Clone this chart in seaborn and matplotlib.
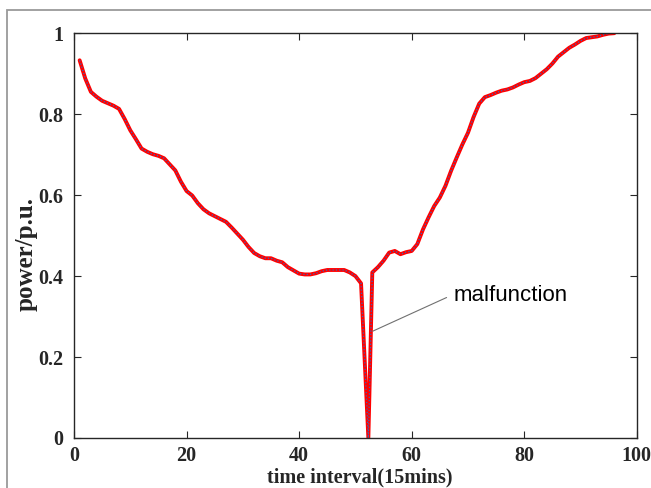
import numpy as np
import pandas as pd
import matplotlib
matplotlib.use("Agg")
import matplotlib.pyplot as plt
import matplotlib.patches as mpatches
import seaborn as sns

# ---- data ----
time_interval = list(range(1, 52)) + [52.3] + list(range(53, 97))
power = [
    0.933, 0.888, 0.855, 0.843, 0.833, 0.827, 0.821, 0.813, 0.788, 0.760,
    0.738, 0.715, 0.707, 0.701, 0.697, 0.691, 0.676, 0.661, 0.633, 0.610,
    0.599, 0.580, 0.565, 0.555, 0.548, 0.541, 0.534, 0.520, 0.505, 0.490,
    0.472, 0.457, 0.449, 0.444, 0.444, 0.438, 0.434, 0.422, 0.414, 0.406,
    0.404, 0.404, 0.407, 0.412, 0.415, 0.415, 0.415, 0.415, 0.409, 0.400,
    0.382, 0.000, 0.409, 0.422, 0.438, 0.458, 0.462, 0.454, 0.459, 0.462,
    0.479, 0.515, 0.545, 0.573, 0.594, 0.623, 0.660, 0.693, 0.725, 0.754,
    0.793, 0.826, 0.842, 0.847, 0.853, 0.858, 0.861, 0.866, 0.873, 0.879,
    0.882, 0.889, 0.900, 0.911, 0.925, 0.942, 0.953, 0.964, 0.972, 0.981,
    0.988, 0.990, 0.992, 0.996, 0.999, 1.000,
]
x_ticks = [0, 20, 40, 60, 80, 100]
y_ticks = [0, 0.2, 0.4, 0.6, 0.8, 1]
y_tick_labels = ["0", "0.2", "0.4", "0.6", "0.8", "1"]
annotation_text = "malfunction"
leader_x = [53.1, 66.2]
leader_y = [0.264, 0.347]
annotation_text_pos = (67.4, 0.352)

df = pd.DataFrame({"t": time_interval, "p": power})

sns.set_style("white")
plt.rcParams["font.family"] = ["Liberation Serif", "DejaVu Serif"]

fig = plt.figure(figsize=(6.51, 4.88), dpi=100)
ax = fig.add_axes([0.1137, 0.1025, 0.8645, 0.8295])

# outer grey frame
fig.patches.append(mpatches.Rectangle((7 / 651, -0.1), 1.2, (488 - 10) / 488 + 0.1,
                                      transform=fig.transFigure, fill=False,
                                      edgecolor="#9a9a9a", linewidth=1.3))

sns.lineplot(data=df, x="t", y="p", ax=ax, color="#ff0000", linewidth=2.8,
             sort=False, estimator=None)
sns.lineplot(data=df, x="t", y="p", ax=ax, color="#2b6cc4", linewidth=0.9,
             linestyle=":", sort=False, estimator=None)

ax.set_xlim(0, 100)
ax.set_ylim(0, 1)
ax.set_xticks(x_ticks)
ax.set_xticklabels([str(v) for v in x_ticks])
ax.set_yticks(y_ticks)
ax.set_yticklabels(y_tick_labels)

for s in ax.spines.values():
    s.set_color("#262626")
    s.set_linewidth(1.0)

ax.tick_params(axis="both", which="both", direction="in", length=5, width=0.8,
               top=True, right=True, bottom=True, left=True, colors="#262626",
               labelsize=14.5)
ax.tick_params(axis="x", pad=6)
ax.tick_params(axis="y", pad=8)
for lab in ax.get_xticklabels() + ax.get_yticklabels():
    lab.set_fontweight("bold")
    lab.set_color("#262626")

ax.set_xlabel("time interval(15mins)", fontsize=14.5, fontweight="bold",
              color="#262626")
ax.xaxis.set_label_coords(0.507, -0.074)
ax.set_ylabel("power/p.u.", fontsize=18, fontweight="bold", color="#262626")
ax.yaxis.set_label_coords(-0.064, 0.455)

ax.plot(leader_x, leader_y, color="#707070", linewidth=0.8)
ax.text(annotation_text_pos[0], annotation_text_pos[1], annotation_text,
        fontsize=16, family=["Liberation Sans", "DejaVu Sans"], color="black",
        va="center", ha="left")

fig.savefig("out.png", dpi=100)
